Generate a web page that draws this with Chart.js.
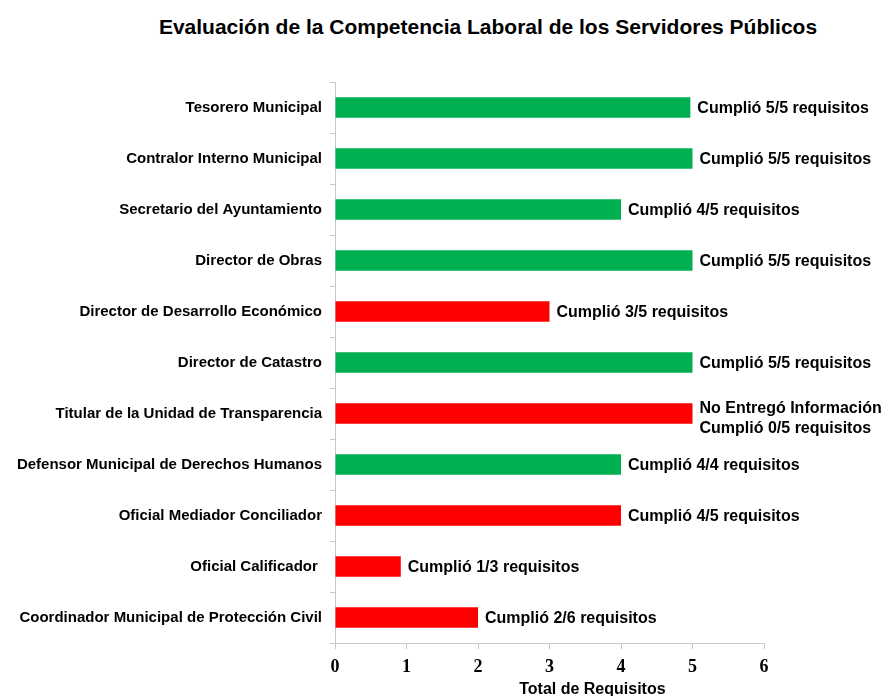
<!DOCTYPE html>
<html>
<head>
<meta charset="utf-8">
<script src="https://cdn.jsdelivr.net/npm/chart.js@4.4.1/dist/chart.umd.min.js"></script>
<style>
  body { margin: 0; background: #fff; }
  #wrap { position: relative; width: 892px; height: 696px; }
  #title {
    position: absolute; left: 84px; right: 0; top: 15px;
    text-align: center; font: bold 21px "Liberation Sans", Arial, sans-serif; color: #000;
  }
  canvas { position: absolute; left: 0; top: 0; }
</style>
</head>
<body>
<div id="wrap">
  <div id="title">Evaluación de la Competencia Laboral de los Servidores Públicos</div>
  <canvas id="chart" width="892" height="696"></canvas>
</div>
<script>
const categories = [
  "Tesorero Municipal",
  "Contralor Interno Municipal",
  "Secretario del Ayuntamiento",
  "Director de Obras",
  "Director de Desarrollo Económico",
  "Director de Catastro",
  "Titular de la Unidad de Transparencia",
  "Defensor Municipal de Derechos Humanos",
  "Oficial Mediador Conciliador",
  "Oficial Calificador ",
  "Coordinador Municipal de Protección Civil"
];
const values = [4.97, 5, 4, 5, 3, 5, 5, 4, 4, 0.92, 2];
const cumple = [true, true, true, true, false, true, false, true, false, false, false];
const barLabels = [
  ["Cumplió 5/5 requisitos"],
  ["Cumplió 5/5 requisitos"],
  ["Cumplió 4/5 requisitos"],
  ["Cumplió 5/5 requisitos"],
  ["Cumplió 3/5 requisitos"],
  ["Cumplió 5/5 requisitos"],
  ["No Entregó Información", "Cumplió 0/5 requisitos"],
  ["Cumplió 4/4 requisitos"],
  ["Cumplió 4/5 requisitos"],
  ["Cumplió 1/3 requisitos"],
  ["Cumplió 2/6 requisitos"]
];
const xTicks = [0, 1, 2, 3, 4, 5, 6];
const xTitle = "Total de Requisitos";

const sans = '"Liberation Sans", Arial, sans-serif';

// etiquetas al final de cada barra + titulo del eje x
const labelPlugin = {
  id: "barLabels",
  afterDatasetsDraw(chart) {
    const ctx = chart.ctx;
    const meta = chart.getDatasetMeta(0);
    ctx.save();
    ctx.font = "bold 16px " + sans;
    ctx.fillStyle = "#000";
    ctx.textAlign = "left";
    ctx.textBaseline = "middle";
    meta.data.forEach((bar, i) => {
      const lines = barLabels[i];
      const lh = 20;
      const y0 = bar.y + 1 - (lines.length - 1) * lh / 2 + (lines.length > 1 ? 4 : 0);
      lines.forEach((t, j) => ctx.fillText(t, bar.x + 7, y0 + j * lh));
    });
    const x = chart.scales.x;
    ctx.textAlign = "center";
    ctx.fillText(xTitle, x.getPixelForValue(3.6), 690);
    ctx.restore();
  }
};

new Chart(document.getElementById("chart").getContext("2d"), {
  type: "bar",
  data: {
    labels: categories,
    datasets: [{
      data: values,
      backgroundColor: cumple.map(c => c ? "#00b050" : "#ff0000"),
      barPercentage: 0.4,
      categoryPercentage: 1
    }]
  },
  options: {
    indexAxis: "y",
    responsive: false,
    animation: false,
    layout: { padding: { top: 82, right: 128, left: 0, bottom: 0 } },
    plugins: { legend: { display: false }, tooltip: { enabled: false } },
    scales: {
      y: {
        grid: { drawOnChartArea: false, color: "#c8c8c8", tickLength: 5 },
        border: { color: "#c8c8c8" },
        ticks: { color: "#000", font: { family: sans, size: 15, weight: "bold" }, padding: 8 },
        afterFit(scale) { scale.width = 335; }
      },
      x: {
        min: 0,
        max: 6,
        afterBuildTicks(scale) { scale.ticks = xTicks.map(v => ({ value: v })); },
        grid: { drawOnChartArea: false, color: "#c8c8c8", tickLength: 6 },
        border: { color: "#c8c8c8" },
        ticks: { color: "#000", font: { family: '"Liberation Serif", "Times New Roman", serif', size: 18, weight: "bold" }, padding: 8 },
        afterFit(scale) { scale.height = 53; }
      }
    }
  },
  plugins: [labelPlugin]
});
</script>
</body>
</html>
